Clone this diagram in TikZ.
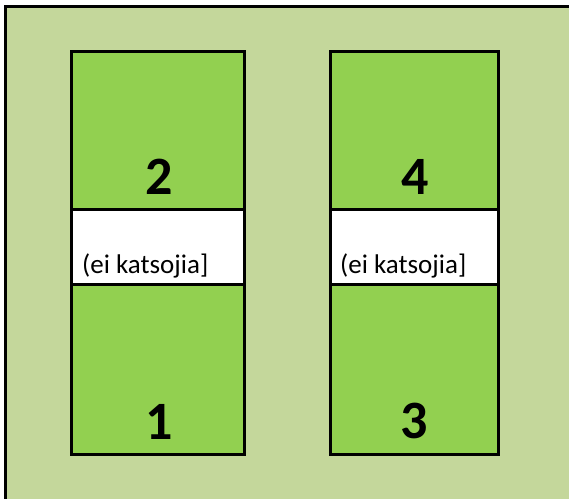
\documentclass[tikz,border=0pt]{standalone}
\usepackage{fontspec}
\setmainfont{Carlito}
\definecolor{fieldbg}{HTML}{C4D79B}
\definecolor{courtgreen}{HTML}{92D050}
\begin{document}
\begin{tikzpicture}[x=1pt,y=-1pt,
  court/.style={draw=black,line width=3pt,fill=courtgreen,rectangle,inner sep=0pt},
  gap/.style={draw=black,line width=3pt,fill=white,rectangle,inner sep=0pt},
  num/.style={font=\fontsize{54}{60}\selectfont\bfseries,anchor=base,inner sep=0pt},
  note/.style={font=\fontsize{27}{32}\selectfont,anchor=base west,inner sep=0pt}]
\useasboundingbox (0,0) rectangle (569,498);
\clip (0,0) rectangle (569,498);
\fill[fieldbg] (5.5,6.5) rectangle (580,510);
\draw[line width=3pt] (5.5,510) -- (5.5,6.5) -- (580,6.5);
% left column
\node[court,minimum width=173pt,minimum height=158pt] (c2) at (158,130.5) {};
\node[court,minimum width=173pt,minimum height=170pt] (c1) at (158,369.5) {};
\node[gap,minimum width=173pt,minimum height=75pt] (g1) at (158,247) {};
% right column
\node[court,minimum width=168pt,minimum height=158pt] (c4) at (414.5,130.5) {};
\node[court,minimum width=168pt,minimum height=170pt] (c3) at (414.5,369.5) {};
\node[gap,minimum width=168pt,minimum height=75pt] (g2) at (414.5,247) {};
% labels
\node[num] (n2) at (159.5,194) {2};
\node[num] (n1) at (159,439) {1};
\node[num] (n4) at (415,194) {4};
\node[num] (n3) at (414.5,438) {3};
\node[note] (t1) at (82,273) {(ei katsojia]};
\node[note] (t2) at (340,273) {(ei katsojia]};
\end{tikzpicture}
\end{document}
